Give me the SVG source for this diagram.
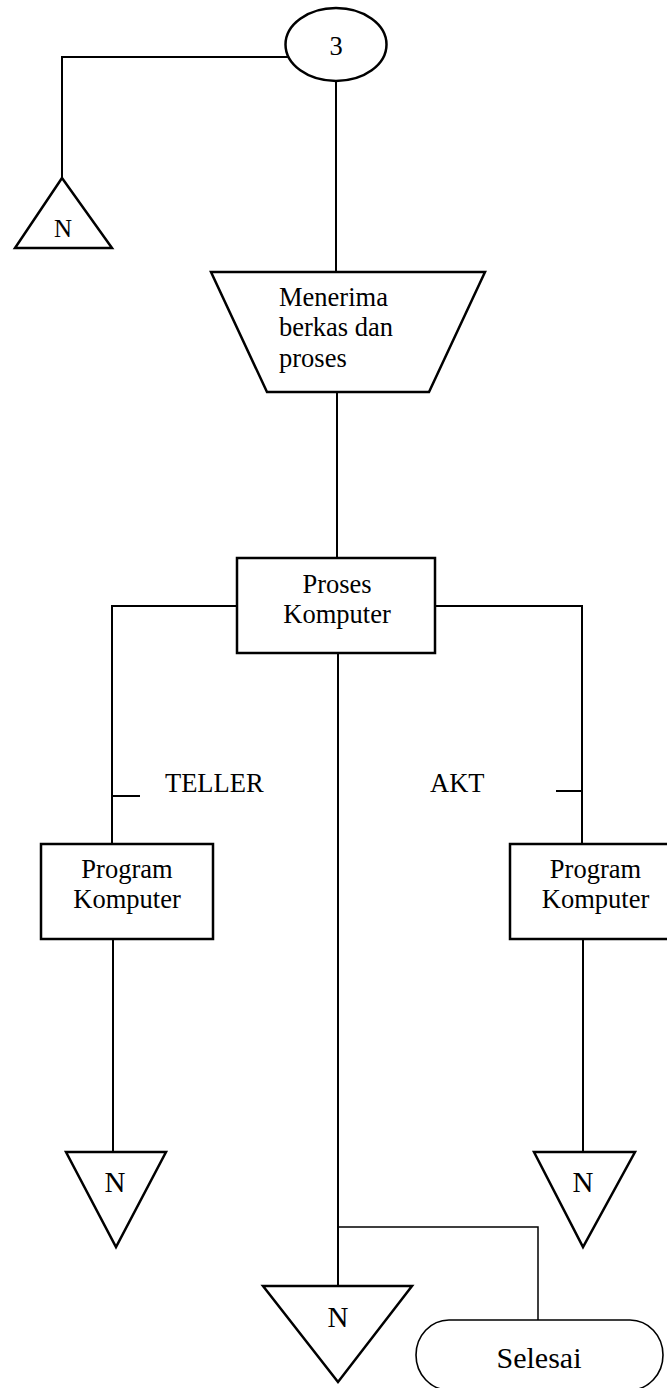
<svg xmlns="http://www.w3.org/2000/svg" width="667" height="1388" viewBox="0 0 667 1388">
  <style>
    .shape { fill: #ffffff; stroke: #000000; stroke-width: 2.5; stroke-linejoin: miter; }
    .thin { fill: #ffffff; stroke: #000000; stroke-width: 1.6; }
    .wire { fill: none; stroke: #000000; stroke-width: 2; }
    .wire-thin { fill: none; stroke: #000000; stroke-width: 1.5; }
    text { font-family: "Liberation Serif", "Times New Roman", serif; fill: #000000; }
    .lbl { font-size: 26.5px; }
    .mid { text-anchor: middle; }
  </style>
  <rect x="0" y="0" width="667" height="1388" fill="#ffffff"/>

  <!-- connectors -->
  <g id="connectors">
    <polyline class="wire" points="288,57 62,57 62,178"/>
    <line class="wire" x1="336" y1="81" x2="336" y2="272"/>
    <line class="wire" x1="337" y1="392" x2="337" y2="558"/>
    <polyline class="wire" points="237,606 112,606 112,844"/>
    <line class="wire" x1="112" y1="796" x2="140" y2="796"/>
    <polyline class="wire" points="435,606 582,606 582,844"/>
    <line class="wire" x1="556" y1="791" x2="582" y2="791"/>
    <line class="wire" x1="113" y1="939" x2="113" y2="1152"/>
    <line class="wire" x1="583" y1="939" x2="583" y2="1152"/>
    <line class="wire" x1="338" y1="653" x2="338" y2="1286"/>
    <polyline class="wire-thin" points="338,1227 538,1227 538,1320"/>
  </g>

  <!-- off-page connector 3 -->
  <g id="node-3">
    <ellipse class="shape" cx="336" cy="44.5" rx="50.5" ry="36.5"/>
    <text class="lbl mid" x="336" y="55">3</text>
  </g>

  <!-- connector N, top left -->
  <g id="node-n-top">
    <polygon class="shape" points="62,178 112,248 15,248"/>
    <text class="mid" x="63" y="237" font-size="25">N</text>
  </g>

  <!-- manual operation -->
  <g id="node-menerima">
    <polygon class="shape" points="211,272 485,272 429,392 267,392"/>
    <text class="lbl" x="279" y="306">Menerima</text>
    <text class="lbl" x="279" y="336">berkas dan</text>
    <text class="lbl" x="279" y="367">proses</text>
  </g>

  <!-- process -->
  <g id="node-proses">
    <rect class="shape" x="237" y="558" width="198" height="95"/>
    <text class="lbl mid" x="337" y="593" font-size="27">Proses</text>
    <text class="lbl mid" x="337" y="623" font-size="27">Komputer</text>
  </g>

  <!-- branch labels -->
  <g id="label-teller">
    <text class="lbl" x="165" y="792">TELLER</text>
  </g>
  <g id="label-akt">
    <text class="lbl" x="430" y="792">AKT</text>
  </g>

  <!-- programs -->
  <g id="node-program-left">
    <rect class="shape" x="41" y="844" width="172" height="95"/>
    <text class="lbl mid" x="127" y="878" font-size="27">Program</text>
    <text class="lbl mid" x="127" y="908" font-size="27">Komputer</text>
  </g>
  <g id="node-program-right">
    <rect class="shape" x="510" y="844" width="170" height="95"/>
    <text class="lbl mid" x="595.5" y="878" font-size="27">Program</text>
    <text class="lbl mid" x="595.5" y="908" font-size="27">Komputer</text>
  </g>

  <!-- connectors N, bottom -->
  <g id="node-n-left">
    <polygon class="shape" points="66,1152 166,1152 116,1247"/>
    <text class="mid" x="115" y="1192" font-size="29">N</text>
  </g>
  <g id="node-n-right">
    <polygon class="shape" points="534,1152 635,1152 583,1247"/>
    <text class="mid" x="583" y="1192" font-size="29">N</text>
  </g>
  <g id="node-n-center">
    <polygon class="shape" points="263,1286 412,1286 338,1382"/>
    <text class="mid" x="338" y="1327" font-size="29">N</text>
  </g>

  <!-- terminator -->
  <g id="node-selesai">
    <rect class="thin" x="416" y="1320" width="247" height="70" rx="33" ry="35"/>
    <text class="mid" x="539" y="1368" font-size="30">Selesai</text>
  </g>
</svg>
